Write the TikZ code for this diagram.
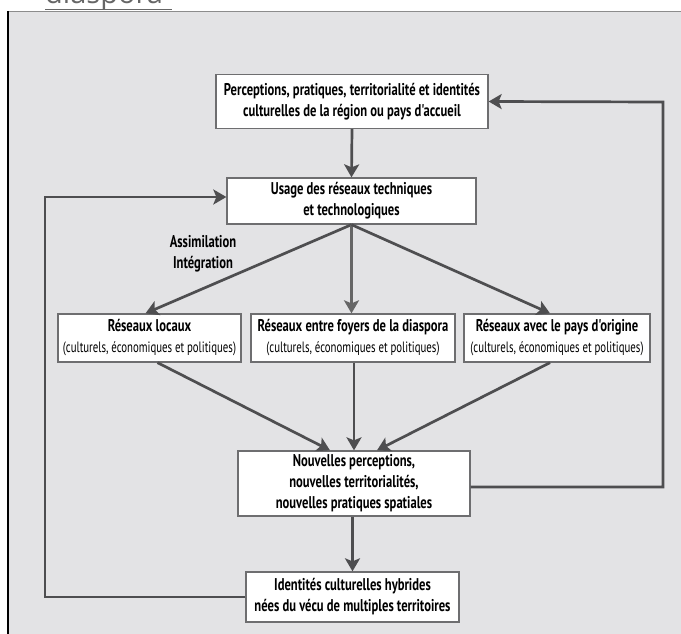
\documentclass[tikz,border=0pt]{standalone}
\usepackage{fontspec}
\newfontfamily\cf[FakeStretch=0.74]{PT Sans}
\newfontfamily\cfr[FakeStretch=0.72]{PT Sans}
\newfontfamily\linkfont{Open Sans}
\newcommand\subtxt{\cfr\mdseries\fontsize{15}{19}\selectfont}
\usetikzlibrary{arrows.meta,calc}
\definecolor{bg}{HTML}{E3E3E5}
\definecolor{ln}{HTML}{4E4E50}
\definecolor{bd}{HTML}{6E6E70}
\tikzset{
  box/.style={draw=bd,line width=1.3pt,fill=white,align=center,inner sep=0pt,
    font=\cf\bfseries\fontsize{17}{21}\selectfont},
  arr/.style={draw=ln,line width=2.7pt,-{Stealth[length=13pt,width=15pt,inset=3pt]}},
}
\begin{document}
\begin{tikzpicture}[x=1pt,y=-1pt]
\useasboundingbox (0,0) rectangle (681,634);
\fill[white] (0,0) rectangle (681,634);
% link text cut off at top
\begin{scope}
\clip (0,0) rectangle (681,11);
\node[anchor=base west,inner sep=0pt,text=black!60,font=\linkfont\fontsize{29}{33}\selectfont] (lk) at (45,4) {diaspora};
\end{scope}
\draw[black!60,line width=1.2pt] (45,9.5) -- (172,9.5);
% frame
\fill[bg] (8,11) rectangle (681,634);
\draw[black!45,line width=0.8pt] (8,11) -- (681,11);
\draw[black,line width=1.8pt] (8,11) -- (8,634);

\node[box,minimum width=272,minimum height=54] (b1) at (352,101.5)
  {Perceptions, pratiques, territorialité et identités\\culturelles de la région ou pays d'accueil};
\node[box,minimum width=249,minimum height=46] (b2) at (351.5,201)
  {Usage des réseaux techniques\\et technologiques};
\node[box,minimum width=183,minimum height=48] (lb) at (149.5,338)
  {Réseaux locaux\\{\subtxt (culturels, économiques et politiques)}};
\node[box,minimum width=204,minimum height=48] (mb) at (353,338)
  {Réseaux entre foyers de la diaspora\\{\subtxt (culturels, économiques et politiques)}};
\node[box,minimum width=186,minimum height=48] (rb) at (557,338)
  {Réseaux avec le pays d'origine\\{\subtxt (culturels, économiques et politiques)}};
\node[box,minimum width=232,minimum height=65] (nv) at (354,483.5)
  {Nouvelles perceptions,\\nouvelles territorialités,\\nouvelles pratiques spatiales};
\node[box,minimum width=213,minimum height=50] (id) at (352.5,597)
  {Identités culturelles hybrides\\nées du vécu de multiples territoires};
\node[align=center,inner sep=0pt,font=\cf\bfseries\fontsize{17}{21}\selectfont] (lab) at (203,254)
  {Assimilation\\Intégration};

\coordinate (rc) at (663,102);
\coordinate (lc) at (45,197);

\draw[arr] (b1.south) -- (b2.north);
\draw[arr] (b2.south) -- ([xshift=-4]lb.north);
\draw[arr,draw=black!60] (b2.south) -- (mb.north -| b2.south);
\draw[arr] (b2.south) -- ([xshift=-7]rb.north);
\draw[arr] ([xshift=8]lb.south) -- ([xshift=-24]nv.north);
\draw[arr] (mb.south -| nv.north) -- (nv.north);
\draw[arr] ([xshift=-7]rb.south) -- ([xshift=23]nv.north);
\draw[arr] (nv.south -| id.north) -- (id.north);
\draw[arr] ([yshift=-3.5]nv.east) -| (rc) -- (b1.east);
\draw[arr] (id.west) -| (lc) -- (b2.west |- lc);
\end{tikzpicture}
\end{document}
